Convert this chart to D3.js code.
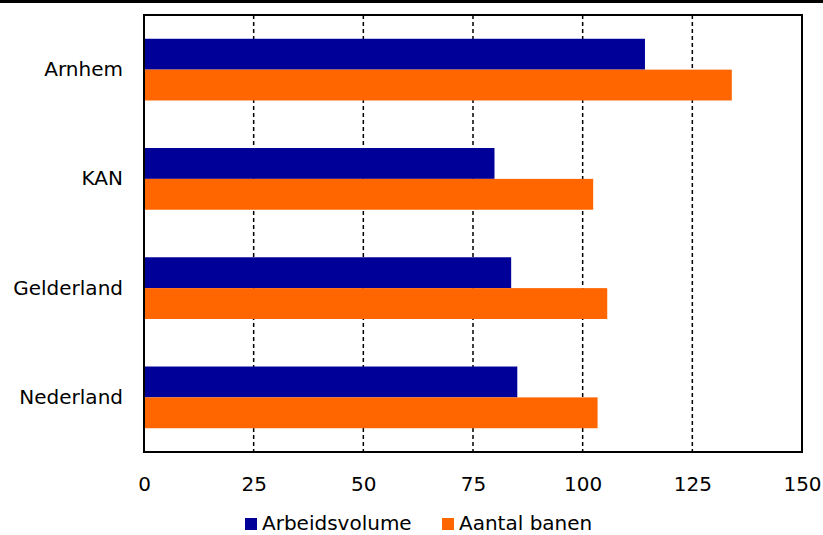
<!DOCTYPE html>
<html><head><meta charset="utf-8">
<script src="https://cdn.jsdelivr.net/npm/d3@7"></script>
<style>body{margin:0;background:#fff}svg{display:block}text{font-family:"DejaVu Sans",Verdana,sans-serif;fill:#000}</style>
</head><body><svg id="c" width="823" height="535"></svg>
<script>
const categories = ["Arnhem","KAN","Gelderland","Nederland"];
const seriesNames = ["Arbeidsvolume","Aantal banen"];
const arbeidsvolume = [114.2, 79.9, 83.7, 85.1];
const aantalBanen = [134.0, 102.4, 105.6, 103.4];
const xTicks = [0,25,50,75,100,125,150];
const colors = ["#000099","#ff6600"];

const svg = d3.select("#c");
const m = {l:144, r:802, t:15, b:452};
const x = d3.scaleLinear().domain([0,150]).range([m.l, m.r]);
const y = d3.scaleBand().domain(categories).range([m.t, m.b]).paddingInner(0.435).paddingOuter(0.2175);
const sub = d3.scaleBand().domain(seriesNames).range([0, y.bandwidth()]);
const FS = "20px";

// top rule
svg.append("rect").attr("x",0).attr("y",0).attr("width",823).attr("height",3).attr("fill","#000");

// gridlines
svg.append("g").selectAll("line").data(xTicks.filter(d=>d>0&&d<150)).join("line")
  .attr("x1",d=>x(d)).attr("x2",d=>x(d)).attr("y1",m.t).attr("y2",m.b)
  .attr("stroke","#000").attr("stroke-width",1.5).attr("stroke-dasharray","4,3");

const data = categories.map((c,i)=>({cat:c, vals:[arbeidsvolume[i], aantalBanen[i]]}));
const g = svg.append("g");
data.forEach(d=>{
  d.vals.forEach((v,j)=>{
    g.append("rect").attr("x",x(0)).attr("y",y(d.cat)+sub(seriesNames[j]))
      .attr("width",x(v)-x(0)).attr("height",sub.bandwidth()).attr("fill",colors[j]);
  });
});

// frame
svg.append("rect").attr("x",m.l).attr("y",m.t).attr("width",m.r-m.l).attr("height",m.b-m.t)
  .attr("fill","none").attr("stroke","#000").attr("stroke-width",2);

// x axis labels
const xa = svg.append("g").attr("transform",`translate(0,${m.b})`)
  .call(d3.axisBottom(x).tickValues(xTicks).tickSize(0).tickPadding(25));
xa.select(".domain").remove();
xa.selectAll("text").style("font-size",FS).style("font-family","'DejaVu Sans',Verdana,sans-serif").attr("fill","#000");

// y axis labels
const ya = svg.append("g").attr("transform",`translate(${m.l},0)`)
  .call(d3.axisLeft(y).tickSize(0).tickPadding(21));
ya.select(".domain").remove();
ya.selectAll("text").style("font-size",FS).style("font-family","'DejaVu Sans',Verdana,sans-serif").attr("fill","#000");

// legend
const legX = [245, 442];
const lg = svg.append("g");
seriesNames.forEach((s,i)=>{
  lg.append("rect").attr("x",legX[i]).attr("y",518).attr("width",12).attr("height",12).attr("fill",colors[i]);
  lg.append("text").attr("x",legX[i]+17).attr("y",530).style("font-size",FS).text(s);
});
</script></body></html>
